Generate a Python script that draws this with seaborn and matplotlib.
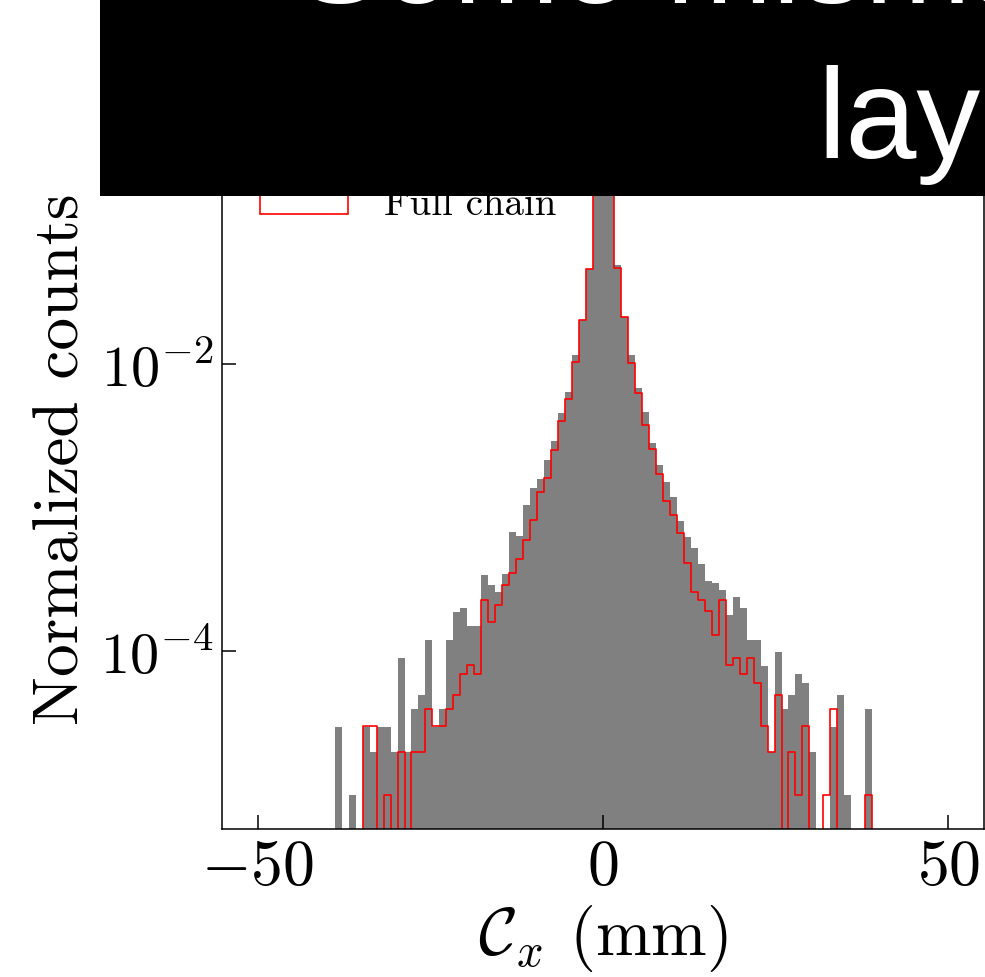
import numpy as np
import pandas as pd
import matplotlib
matplotlib.use("Agg")
import matplotlib.pyplot as plt
from matplotlib.patches import Patch, Rectangle
from matplotlib.ticker import LogLocator, NullLocator
import seaborn as sns

# Binning of the cluster x-position (mm)
bin_lo, bin_hi, n_bins = -38.83, 38.97, 77

# Entries per bin: reference sample (filled grey)
ref_counts = [
    3, 0, 1, 0, 3, 2, 3, 3, 2, 9,
    2, 4, 5, 12, 3, 4, 12, 19, 20, 15,
    15, 34, 29, 26, 35, 68, 64, 105, 138, 160,
    215, 292, 461, 649, 1169, 2060, 4650, 15500, 48000, 15500,
    4980, 2150, 1169, 684, 465, 285, 201, 151, 120, 82,
    63, 53, 41, 31, 30, 27, 18, 24, 20, 12,
    12, 8, 2, 10, 4, 5, 7, 6, 2, 0,
    0, 3, 5, 1, 0, 0, 4,
]

# Entries per bin: full simulation chain (red outline)
full_counts = [
    0, 0, 0, 0, 3, 3, 0, 1, 0, 2,
    0, 2, 2, 4, 3, 3, 4, 5, 7, 8,
    7, 23, 16, 21, 29, 35, 44, 60, 83, 129,
    162, 253, 403, 577, 1038, 2036, 4620, 15600, 49000, 15600,
    4720, 2137, 1028, 635, 376, 256, 171, 111, 89, 67,
    41, 26, 23, 19, 13, 23, 8, 9, 7, 9,
    6, 3, 2, 5, 0, 2, 1, 3, 0, 0,
    1, 4, 0, 0, 0, 0, 1,
]

legend_labels = ["Truth", "Full chain"]
x_ticks = [-50, 0, 50]
x_label = r"$\mathcal{C}_x$ (mm)"
y_label = "Normalized counts"
title_lines = ["Some mismatch", "layer"]

edges = np.linspace(bin_lo, bin_hi, n_bins + 1)
df = pd.DataFrame({
    "cx": 0.5 * (edges[:-1] + edges[1:]),
    "ref": np.asarray(ref_counts, dtype=float),
    "full": np.asarray(full_counts, dtype=float),
})

plt.rcParams.update({
    "font.family": "serif",
    "font.serif": ["cmr10"],
    "mathtext.fontset": "cm",
    "axes.formatter.use_mathtext": True,
    "axes.linewidth": 1.1,
    "xtick.direction": "in",
    "ytick.direction": "in",
    "xtick.major.size": 10,
    "ytick.major.size": 10,
    "xtick.major.width": 1.1,
    "ytick.major.width": 1.1,
})

W, H = 985, 978
fig = plt.figure(figsize=(W / 100, H / 100), dpi=100)
ax = fig.add_axes([222 / W, (H - 830) / H, (984 - 222) / W, (830 - 88) / H])

hist_kws = dict(x="cx", bins=n_bins, binrange=(bin_lo, bin_hi),
                stat="density", element="step", fill=True, ax=ax)
sns.histplot(data=df, weights="ref", color="gray", alpha=1.0,
             linewidth=0, **hist_kws)
sns.histplot(data=df, weights="full", color="red", facecolor="none",
             edgecolor="red", linewidth=1.2, **hist_kws)

ax.set_yscale("log")
ax.set_ylim(10 ** -5.24, 10 ** -0.07)
ax.set_xlim(-55.14, 55.14)
ax.set_xticks(x_ticks)
ax.yaxis.set_major_locator(LogLocator(base=100))
ax.yaxis.set_minor_locator(NullLocator())
ax.xaxis.set_minor_locator(NullLocator())
ax.tick_params(axis="x", labelsize=46, pad=7)
ax.tick_params(axis="y", labelsize=42, pad=6)

ax.set_xlabel(x_label, fontsize=48, labelpad=4)
ax.set_ylabel(y_label, fontsize=47, labelpad=6)

handles = [
    Patch(facecolor="gray", edgecolor="none"),
    Patch(facecolor="none", edgecolor="red", linewidth=1.2),
]
ax.legend(handles, legend_labels, loc="upper left", frameon=False,
          bbox_to_anchor=(0.004, 0.988),
          fontsize=28, handlelength=2.25, handletextpad=0.95)

# Black banner with the heading across the top
fig.patches.append(Rectangle((100 / W, 1 - 197 / H), 1.0, 1.0,
                             transform=fig.transFigure, facecolor="black",
                             edgecolor="none", zorder=5))
fig.text(297 / W, 1 - 3 / H, title_lines[0], color="white", fontsize=92,
         family="Liberation Sans", ha="left", va="baseline", zorder=6)
fig.text(817 / W, 1 - 158 / H, title_lines[1], color="white", fontsize=92,
         family="Liberation Sans", ha="left", va="baseline", zorder=6)

fig.savefig("out.png", dpi=100)
